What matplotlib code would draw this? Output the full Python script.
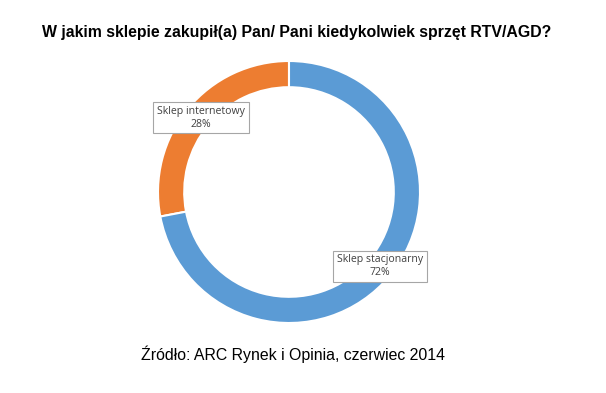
import matplotlib
matplotlib.use("Agg")
import matplotlib.pyplot as plt

labels = ["Sklep internetowy", "Sklep stacjonarny"]
shares = [28, 72]
colors = ["#ED7D31", "#5B9BD5"]
title = "W jakim sklepie zakupił(a) Pan/ Pani kiedykolwiek sprzęt RTV/AGD?"
source = "Źródło: ARC Rynek i Opinia, czerwiec 2014"

W, H = 606, 393
fig = plt.figure(figsize=(W / 100, H / 100), dpi=100)

cx, cy, r = 289, 192, 131
ax = fig.add_axes([(cx - r) / W, (H - cy - r) / H, 2 * r / W, 2 * r / H])
ax.pie(shares, colors=colors, startangle=90, counterclock=True, radius=1,
       wedgeprops=dict(width=0.2, edgecolor="white", linewidth=1.5))
ax.set_xlim(-1, 1)
ax.set_ylim(-1, 1)
ax.set_aspect("equal")
ax.axis("off")

# label boxes placed roughly where the original puts them
label_pos = [(-0.672, 0.565), (0.695, -0.565)]
for (x, y), lab, v in zip(label_pos, labels, shares):
    ax.text(x, y, f"{lab}\n{v}%", ha="center", va="center", fontsize=7.6,
            family="Open Sans", color="#404040", linespacing=1.2,
            bbox=dict(boxstyle="square,pad=0.35", fc="white", ec="#A6A6A6", lw=0.8))

fig.text(297 / W, 1 - 33 / H, title, ha="center", va="center", fontsize=11.4,
         fontweight="bold", family="Liberation Sans")
fig.text(293 / W, 1 - 354 / H, source, ha="center", va="center", fontsize=11.4,
         family="Liberation Sans")

fig.savefig("out.png", dpi=100)
